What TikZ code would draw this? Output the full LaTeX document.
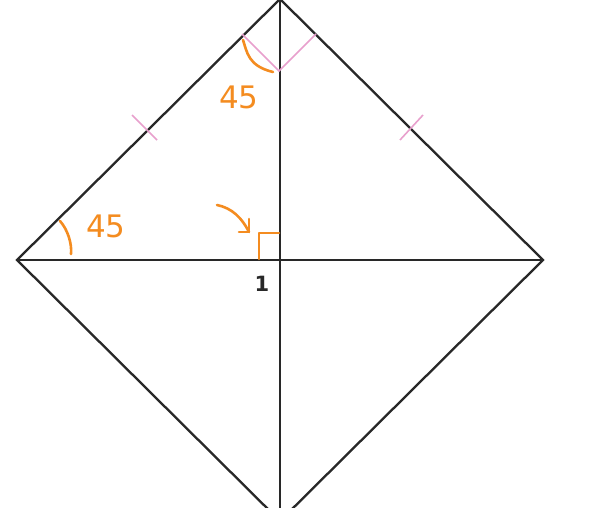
\documentclass[tikz,border=0pt]{standalone}
\usepackage{fontspec}
\setmainfont{DejaVu Sans}
\definecolor{hand}{RGB}{244,140,32}
\definecolor{tickpink}{RGB}{232,160,205}
\definecolor{edge}{RGB}{40,40,40}
\tikzset{
  edgeline/.style={draw=edge, line width=2.3pt},
  pinkmark/.style={draw=tickpink, line width=1.6pt},
  orangemark/.style={draw=hand, line width=2.6pt, line cap=round, line join=round},
  handtext/.style={text=hand, font=\fontsize{31}{31}\selectfont, inner sep=0pt},
}
\begin{document}
\begin{tikzpicture}[x=1pt,y=-1pt]
\useasboundingbox (0,0) rectangle (599,508);
\clip (0,0) rectangle (599,508);
\fill[white] (0,0) rectangle (599,508);
% vertices
\coordinate (T) at (280,-1);
\coordinate (L) at (17,260);
\coordinate (R) at (543,260);
\coordinate (B) at (280,521);
\coordinate (O) at (280,260);
% diamond and diagonals
\draw[edgeline] (T) -- (L) -- (B) -- (R) -- cycle;
\draw[edgeline] (L) -- (R);
\draw[edgeline] (T) -- (B);
% tick marks
\coordinate (t1a) at (132,115); \coordinate (t1b) at (157,140);
\coordinate (t2a) at (423,115); \coordinate (t2b) at (400,140);
\draw[pinkmark] (t1a) -- (t1b);
\draw[pinkmark] (t2a) -- (t2b);
% pink V at top
\coordinate (va) at (242,34); \coordinate (vb) at (279,71); \coordinate (vc) at (316,34);
\draw[pinkmark] (va) -- (vb) -- (vc);
% orange top arc
\coordinate (oa1) at (243,40); \coordinate (oa2) at (273,72);
\draw[orangemark] (oa1) .. controls (247,52) and (248,66) .. (oa2);
\node[handtext] (n45top) at (239,97) {45};
% orange left arc
\coordinate (la1) at (60,221); \coordinate (la2) at (71,254);
\draw[orangemark] (la1) .. controls (68,230) and (72,244) .. (la2);
\node[handtext] (n45left) at (106,226) {45};
% right angle mark
\coordinate (ra1) at (259,259); \coordinate (ra2) at (259,233); \coordinate (ra3) at (279,233);
\draw[orangemark] (ra1) -- (ra2) -- (ra3);
% orange arrow
\coordinate (ar1) at (217,205); \coordinate (ar2) at (249,232);
\draw[orangemark] (ar1) .. controls (232,208) and (242,218) .. (ar2);
\draw[orangemark] (249,219) -- (ar2) -- (239,232);
% label 1
\node[font=\bfseries\fontsize{21}{21}\selectfont, text=edge, inner sep=0pt] (one) at (262,284) {1};
\end{tikzpicture}
\end{document}
